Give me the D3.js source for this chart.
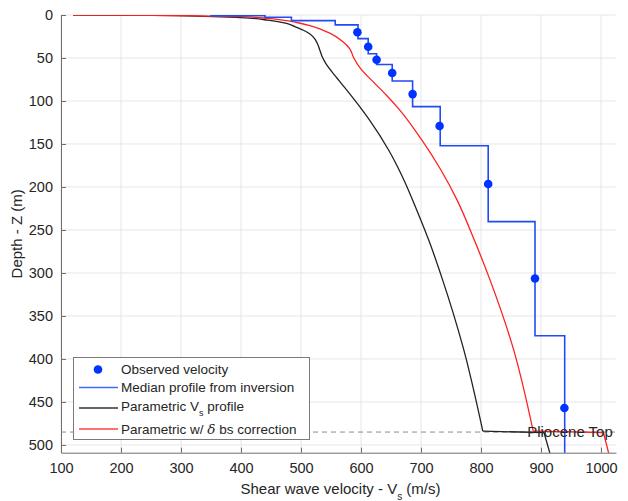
<!DOCTYPE html>
<html>
<head>
<meta charset="utf-8">
<script src="https://cdn.jsdelivr.net/npm/d3@7"></script>
<style>
  body { margin: 0; background: #fff; }
  svg text { font-family: "Liberation Sans", Arial, Helvetica, sans-serif; fill: #262626; }
</style>
</head>
<body>
<svg id="vs-chart"></svg>
<script>
// observed velocity points (Vs m/s, depth m)
var obsVs    = [594, 612, 626, 652, 686, 731, 812, 890, 939];
var obsDepth = [20, 37, 52, 67.5, 92, 129, 196.5, 306.5, 457];

// median profile from inversion: layer velocity and layer top / bottom
var medVs     = [350, 440, 484, 557, 595, 612, 626, 652, 686, 732, 812, 890, 939.5];
var medTop    = [0, 0.8, 2.7, 6.5, 11.5, 27.5, 45, 57.5, 76.7, 106.6, 152, 240.3, 373];
var medBottom = [0.8, 2.7, 6.5, 11.5, 27.5, 45, 57.5, 76.7, 106.6, 152, 240.3, 373, 510];

// parametric Vs profile
var parDepth = [0, 0.5, 1.5, 3, 6, 9.7, 13.6, 18, 22, 30, 40, 48, 56, 70, 87, 104, 122, 157, 188, 227, 262, 308, 386, 484, 485.5, 510];
var parVs    = [120, 250, 340, 400, 445, 476, 490, 505, 515, 525, 531, 535, 541, 556, 576, 595, 614, 646, 669, 693, 713, 736, 770, 803, 905, 915];

// parametric with delta bs correction
var corDepth = [0, 0.5, 1.2, 2, 4, 6.6, 9, 12.4, 21, 31, 39, 50, 62, 77.5, 93, 110, 145, 180, 215, 262, 308, 386, 484, 485.5, 510];
var corVs    = [120, 250, 340, 400, 445, 476, 495, 515, 548, 570, 581, 588, 599, 620, 642, 664, 701, 733, 760, 789, 815, 853, 887, 1004, 1013];

var plioceneDepth = 485;
var xTicks = [100, 200, 300, 400, 500, 600, 700, 800, 900, 1000];
var yTicks = [0, 50, 100, 150, 200, 250, 300, 350, 400, 450, 500];

var W = 628, H = 501;
var margin = {left: 61, right: 616, top: 15, bottom: 452.7};

var svg = d3.select("#vs-chart").attr("width", W).attr("height", H);

var x = d3.scaleLinear().domain([100, 1025]).range([margin.left, margin.right]);
var y = d3.scaleLinear().domain([0, 509]).range([margin.top, margin.bottom]);

svg.append("defs").append("clipPath").attr("id", "plot-clip")
    .append("rect")
    .attr("x", margin.left).attr("y", margin.top)
    .attr("width", margin.right - margin.left).attr("height", margin.bottom - margin.top);

// grid
var grid = svg.append("g").attr("class", "grid");
grid.selectAll(".gx").data(xTicks).enter().append("line")
    .attr("x1", function (d) { return x(d); }).attr("x2", function (d) { return x(d); })
    .attr("y1", margin.top).attr("y2", margin.bottom)
    .attr("stroke", "#e6e6e6").attr("stroke-width", 1);
grid.selectAll(".gy").data(yTicks).enter().append("line")
    .attr("x1", margin.left).attr("x2", margin.right)
    .attr("y1", function (d) { return y(d); }).attr("y2", function (d) { return y(d); })
    .attr("stroke", "#e6e6e6").attr("stroke-width", 1);

// axes (ticks pointing inwards, matlab style)
var xAxis = d3.axisBottom(x).tickValues(xTicks).tickFormat(d3.format("d"))
    .tickSizeInner(-5).tickSizeOuter(0).tickPadding(10);
var yAxis = d3.axisLeft(y).tickValues(yTicks).tickFormat(d3.format("d"))
    .tickSizeInner(-5).tickSizeOuter(0).tickPadding(8);

var gx = svg.append("g").attr("transform", "translate(0," + margin.bottom + ")").call(xAxis);
var gy = svg.append("g").attr("transform", "translate(" + margin.left + ",0)").call(yAxis);
[gx, gy].forEach(function (g) {
    g.select(".domain").attr("stroke", "#6e6e6e");
    g.selectAll(".tick line").attr("stroke", "#6e6e6e");
    g.selectAll(".tick text").style("font-size", "14.5px").attr("fill", "#404040");
});

var plot = svg.append("g").attr("clip-path", "url(#plot-clip)");

// pliocene top
plot.append("line")
    .attr("x1", margin.left).attr("x2", margin.right)
    .attr("y1", y(plioceneDepth)).attr("y2", y(plioceneDepth))
    .attr("stroke", "#8a8a8a").attr("stroke-width", 1)
    .attr("stroke-dasharray", "5,4");

var line = d3.line()
    .x(function (d) { return x(d.v); })
    .y(function (d) { return y(d.z); });

function drawProfile(depths, vels, color) {
    var pts = depths.map(function (z, i) { return {z: z, v: vels[i]}; });
    var split = depths.indexOf(484);
    plot.append("path")
        .datum(pts.slice(0, split + 1))
        .attr("d", line.curve(d3.curveMonotoneY))
        .attr("fill", "none").attr("stroke", color).attr("stroke-width", 1.3);
    plot.append("path")
        .datum(pts.slice(split))
        .attr("d", line.curve(d3.curveLinear))
        .attr("fill", "none").attr("stroke", color).attr("stroke-width", 1.3);
}

drawProfile(parDepth, parVs, "#222222");
drawProfile(corDepth, corVs, "#ff2020");

// median step profile
var stepPts = [];
medVs.forEach(function (v, i) {
    stepPts.push({v: v, z: medTop[i]});
    stepPts.push({v: v, z: medBottom[i]});
});
plot.append("path")
    .datum(stepPts)
    .attr("d", line.curve(d3.curveLinear))
    .attr("fill", "none").attr("stroke", "#1f4cf5").attr("stroke-width", 1.6);

// observed points
plot.selectAll(".obs").data(obsVs).enter().append("circle")
    .attr("cx", function (d) { return x(d); })
    .attr("cy", function (d, i) { return y(obsDepth[i]); })
    .attr("r", 4.3)
    .attr("fill", "#0033ff");

svg.append("text")
    .attr("x", x(877)).attr("y", y(plioceneDepth))
    .attr("dy", "0.35em")
    .style("font-size", "15px")
    .attr("fill", "#1a1a1a")
    .text("Pliocene Top");

// axis labels
var xl = svg.append("text")
    .attr("x", (margin.left + margin.right) / 2 + 2).attr("y", 494)
    .attr("text-anchor", "middle")
    .style("font-size", "15px");
xl.append("tspan").text("Shear wave velocity - V");
xl.append("tspan").attr("baseline-shift", "sub").style("font-size", "10px").text("s");
xl.append("tspan").text(" (m/s)");

svg.append("text")
    .attr("transform", "translate(22," + ((margin.top + margin.bottom) / 2) + ")rotate(-90)")
    .attr("text-anchor", "middle")
    .style("font-size", "15px")
    .text("Depth - Z (m)");

// legend
var lg = svg.append("g").attr("class", "legend");
lg.append("rect")
    .attr("x", 73.5).attr("y", 357.5)
    .attr("width", 236).attr("height", 82)
    .attr("fill", "#fff").attr("stroke", "#7a7a7a").attr("stroke-width", 1);

var legendItems = [
    {type: "dot", color: "#0033ff", y: 369.5},
    {type: "line", color: "#3d6bff", y: 387.5},
    {type: "line", color: "#333333", y: 408},
    {type: "line", color: "#ff4040", y: 429}
];
legendItems.forEach(function (d) {
    if (d.type === "dot") {
        lg.append("circle").attr("cx", 98).attr("cy", d.y).attr("r", 4.3).attr("fill", d.color);
    } else {
        lg.append("line").attr("x1", 79).attr("x2", 118)
            .attr("y1", d.y).attr("y2", d.y)
            .attr("stroke", d.color).attr("stroke-width", 1.5);
    }
});

function legendText(yy) {
    return lg.append("text").attr("x", 121).attr("y", yy).attr("dy", "0.35em").style("font-size", "13.5px").attr("fill", "#1a1a1a");
}
legendText(369.5).text("Observed velocity");
legendText(387.5).text("Median profile from inversion");
var t3 = legendText(406);
t3.append("tspan").text("Parametric V");
t3.append("tspan").attr("baseline-shift", "sub").style("font-size", "9px").text("s");
t3.append("tspan").text(" profile");
var t4 = legendText(429);
t4.append("tspan").text("Parametric w/ ");
t4.append("tspan").style("font-style", "italic").style("font-family", "'DejaVu Serif', serif").text("δ");
t4.append("tspan").text(" bs correction");
</script>
</body>
</html>
